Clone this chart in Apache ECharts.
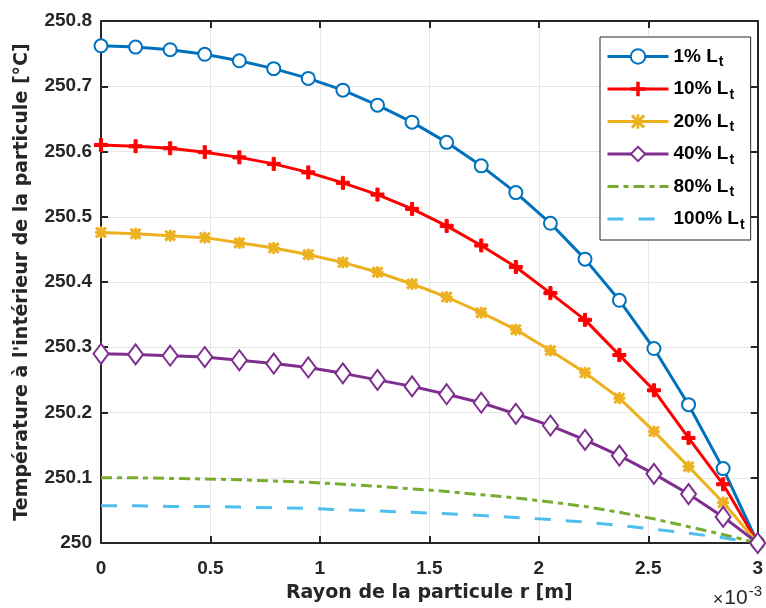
<!DOCTYPE html>
<html>
<head>
<meta charset="utf-8">
<script src="https://cdn.jsdelivr.net/npm/echarts@6/dist/echarts.min.js"></script>
<style>
html,body{margin:0;padding:0;background:#fff;}
#chart{width:766px;height:608px;}
</style>
</head>
<body>
<div id="chart"></div>
<script>
// Radius positions (×10^-3 m)
var radius = [0, 0.158, 0.316, 0.474, 0.632, 0.789, 0.947, 1.105, 1.263, 1.421,
              1.579, 1.737, 1.895, 2.053, 2.211, 2.368, 2.526, 2.684, 2.842, 3.0];
var seriesNames = ['1% L', '10% L', '20% L', '40% L', '80% L', '100% L'];
var t1 = [250.762, 250.760, 250.756, 250.749, 250.739, 250.727, 250.712, 250.694, 250.671, 250.645,
          250.614, 250.578, 250.537, 250.490, 250.435, 250.372, 250.298, 250.212, 250.114, 250.000];
var t10 = [250.610, 250.608, 250.605, 250.599, 250.591, 250.581, 250.568, 250.552, 250.534, 250.512,
           250.486, 250.456, 250.423, 250.383, 250.342, 250.288, 250.234, 250.161, 250.090, 250.000];
var t20 = [250.476, 250.474, 250.471, 250.468, 250.460, 250.452, 250.442, 250.430, 250.415, 250.397,
           250.377, 250.353, 250.327, 250.295, 250.261, 250.222, 250.171, 250.117, 250.062, 250.000];
var t40 = [250.290, 250.289, 250.287, 250.285, 250.280, 250.275, 250.269, 250.260, 250.250, 250.240,
           250.228, 250.215, 250.198, 250.180, 250.158, 250.134, 250.106, 250.075, 250.040, 250.000];
var t80 = [250.100, 250.100, 250.099, 250.098, 250.097, 250.095, 250.093, 250.090, 250.087, 250.083,
           250.079, 250.074, 250.069, 250.063, 250.056, 250.047, 250.037, 250.025, 250.013, 250.000];
var t100 = [250.057, 250.057, 250.056, 250.056, 250.055, 250.054, 250.053, 250.051, 250.049, 250.047,
            250.045, 250.042, 250.039, 250.036, 250.032, 250.027, 250.021, 250.015, 250.008, 250.000];
var xTicks = [0, 0.5, 1, 1.5, 2, 2.5, 3];
var yTicks = [250, 250.1, 250.2, 250.3, 250.4, 250.5, 250.6, 250.7, 250.8];

function pairs(ys) { return radius.map(function (r, i) { return [r, ys[i]]; }); }

var FONT = '"Liberation Sans", Arial, sans-serif';
var TFONT = '"DejaVu Sans", "Liberation Sans", sans-serif';
var TXT = '#262626';
var plusPath = 'path://M3.8,0H6.2V3.8H10V6.2H6.2V10H3.8V6.2H0V3.8H3.8Z';
var starPath = 'path://M0,1.5L1.5,0L10,8.5L8.5,10Z M8.5,0L10,1.5L1.5,10L0,8.5Z M4.1,0L5.9,0L5.9,10L4.1,10Z M0,4.1L10,4.1L10,5.9L0,5.9Z';

var chart = echarts.init(document.getElementById('chart'), null, {renderer: 'canvas'});

var axisCommon = {
  type: 'value',
  axisLine: {show: true, onZero: false, lineStyle: {color: TXT, width: 2}},
  axisTick: {show: true, inside: true, length: 7, lineStyle: {color: TXT, width: 2}},
  splitLine: {show: false},
  axisLabel: {show: false}
};

function mkSeries(name, ys, color, extra) {
  var s = {
    name: name, type: 'line', data: pairs(ys),
    lineStyle: {color: color, width: 3},
    itemStyle: {color: color, borderColor: color},
    emphasis: {disabled: true},
    animation: false,
    z: 3
  };
  for (var k in extra) s[k] = extra[k];
  return s;
}

var option = {
  backgroundColor: '#fff',
  animation: false,
  grid: {left: 101, right: 4, top: 21, bottom: 64, containLabel: false},
  xAxis: [
    Object.assign({}, axisCommon, {
      position: 'bottom', min: 0, max: 3, interval: 0.5,
      axisLabel: {show: true, margin: 16, fontSize: 19, fontWeight: 'bold', fontFamily: FONT, color: TXT,
        formatter: function (v) { return xTicks.indexOf(+v.toFixed(1)) >= 0 ? String(+v.toFixed(1)) : ''; }},
      splitLine: {show: true, lineStyle: {color: '#e6e6e6', width: 1}},
      name: 'Rayon de la particule r [m]', nameLocation: 'middle', nameGap: 41,
      nameTextStyle: {fontSize: 19, fontWeight: 'bold', fontFamily: TFONT, color: TXT}
    }),
    Object.assign({}, axisCommon, {position: 'top', min: 0, max: 3, interval: 0.5})
  ],
  yAxis: [
    Object.assign({}, axisCommon, {
      position: 'left', min: 250, max: 250.8, interval: 0.1,
      axisLabel: {show: true, margin: 9, fontSize: 19, fontWeight: 'bold', fontFamily: FONT, color: TXT,
        formatter: function (v) { return String(+v.toFixed(1)); }},
      splitLine: {show: true, lineStyle: {color: '#e6e6e6', width: 1}},
      name: 'Température à l\'intérieur de la particule [°C]', nameLocation: 'middle', nameGap: 69,
      nameTextStyle: {fontSize: 19, fontWeight: 'bold', fontFamily: TFONT, color: TXT}
    }),
    Object.assign({}, axisCommon, {position: 'right', min: 250, max: 250.8, interval: 0.1})
  ],
  legend: {
    orient: 'vertical', left: 600, top: 37,
    padding: [10, 6, 8, 6],
    itemGap: 10, itemWidth: 61, itemHeight: 18,
    backgroundColor: '#fff', borderColor: TXT, borderWidth: 1,
    lineStyle: {width: 3},
    data: [
      {name: seriesNames[0]}, {name: seriesNames[1]}, {name: seriesNames[2]}, {name: seriesNames[3]},
      {name: seriesNames[4], itemStyle: {opacity: 0}},
      {name: seriesNames[5], itemStyle: {opacity: 0}}
    ],
    formatter: function (n) { return '{a|' + n + '}{s|t}'; },
    textStyle: {
      fontFamily: FONT, fontWeight: 'bold', color: '#000',
      rich: {
        a: {fontSize: 19, fontWeight: 'bold', fontFamily: FONT, color: '#000'},
        s: {fontSize: 14, fontWeight: 'bold', fontFamily: FONT, color: '#000', padding: [12, 0, 0, 1]}
      }
    },
    selectedMode: false
  },
  graphic: [{
    type: 'text', right: 4, top: 584,
    style: {
      text: '{x|×}{a|10}{b|-3}',
      rich: {
        x: {fontSize: 18, fontFamily: FONT, fill: TXT, padding: [4, 1, 0, 0]},
        a: {fontSize: 21, fontFamily: FONT, fill: TXT},
        b: {fontSize: 15, fontFamily: FONT, fill: TXT, padding: [0, 0, 14, 1]}
      }
    }
  }],
  series: [
    mkSeries(seriesNames[0], t1, '#0072BD', {symbol: 'emptyCircle', symbolSize: 13,
      itemStyle: {color: '#0072BD', borderColor: '#0072BD', borderWidth: 3}}),
    mkSeries(seriesNames[1], t10, '#FF0000', {symbol: plusPath, symbolSize: 13}),
    mkSeries(seriesNames[2], t20, '#EDB120', {symbol: starPath, symbolSize: 11}),
    mkSeries(seriesNames[3], t40, '#7E2F8E', {symbol: 'emptyDiamond', symbolSize: [15, 20],
      itemStyle: {color: '#7E2F8E', borderColor: '#7E2F8E', borderWidth: 3}}),
    mkSeries(seriesNames[4], t80, '#77AC30', {symbol: 'none', showSymbol: false,
      lineStyle: {color: '#77AC30', width: 3, type: [11, 5, 5, 5]}}),
    mkSeries(seriesNames[5], t100, '#4DBEEE', {symbol: 'none', showSymbol: false,
      lineStyle: {color: '#4DBEEE', width: 3, type: [16, 15]}})
  ]
};
chart.setOption(option);
</script>
</body>
</html>
